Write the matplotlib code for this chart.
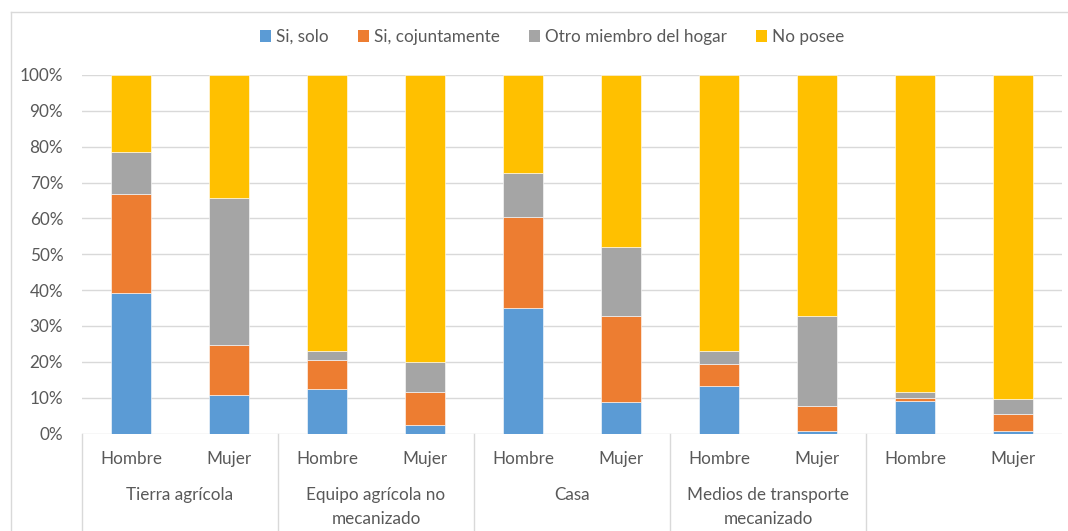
import matplotlib
matplotlib.use("Agg")
import matplotlib.pyplot as plt
import matplotlib.transforms as mtransforms
from matplotlib.lines import Line2D
from matplotlib.patches import Patch
import numpy as np

plt.rcParams['font.family'] = ['Lato', 'DejaVu Sans']

# ---- data ----
groups = ["Tierra agrícola", "Equipo agrícola no\nmecanizado", "Casa",
          "Medios de transporte\nmecanizado", ""]
sexes = ["Hombre", "Mujer"]
series_names = ["Si, solo", "Si, cojuntamente", "Otro miembro del hogar", "No posee"]
si_solo = [39.1, 10.7, 12.3, 2.3, 34.9, 8.7, 13.3, 0.8, 9.1, 0.8]
si_conj = [27.6, 14.1, 8.1, 9.3, 25.6, 24.1, 6.1, 6.9, 0.9, 4.5]
otro = [11.7, 41.0, 2.7, 8.4, 12.2, 19.1, 3.7, 25.1, 1.6, 4.3]
no_posee = [21.6, 34.2, 76.9, 80.0, 27.3, 48.1, 76.9, 67.2, 88.4, 90.4]
yticks = [0, 10, 20, 30, 40, 50, 60, 70, 80, 90, 100]

colors = ["#5B9BD5", "#ED7D31", "#A5A5A5", "#FFC000"]
text_color = "#595959"
grid_color = "#D9D9D9"
FS = 12.3

W, H = 1068, 531
fig = plt.figure(figsize=(W / 100, H / 100), dpi=100)
ax = fig.add_axes([82 / W, 1 - 433.5 / H, (1062 - 82) / W, (433.5 - 75) / H])

x = np.arange(len(si_solo))
bottom = np.zeros(len(x))
for vals, col, name in zip([si_solo, si_conj, otro, no_posee], colors, series_names):
    ax.bar(x, vals, width=0.4, bottom=bottom, color=col, edgecolor="white",
           linewidth=0.4, label=name, zorder=3)
    bottom += np.array(vals)

ax.set_xlim(-0.5, len(x) - 0.5)
ax.set_ylim(0, 100)
ax.set_yticks(yticks)
ax.set_yticklabels([f"{t}%" for t in yticks], fontsize=FS, color=text_color)
ax.tick_params(axis="y", length=0, pad=13.5)
ax.set_xticks([])
ax.grid(axis="y", color=grid_color, linewidth=1.0, zorder=0)
for s in ax.spines.values():
    s.set_visible(False)

# x labels (two levels)
tr = mtransforms.blended_transform_factory(ax.transData, fig.transFigure)
for i in x:
    ax.text(i, 1 - 459 / H, sexes[i % 2], transform=tr, ha="center", va="center",
            fontsize=FS, color=text_color, clip_on=False)
for g, name in enumerate(groups):
    lines = name.split("\n")
    for k, ln in enumerate(lines):
        ax.text(2 * g + 0.5, 1 - (495 + 24 * k) / H, ln, transform=tr, ha="center",
                va="center", fontsize=FS, color=text_color, clip_on=False)
for g in range(len(groups)):
    xb = 2 * g - 0.5
    ax.add_line(Line2D([xb, xb], [1 - 433.5 / H, 0], transform=tr, color=grid_color,
                       linewidth=1.0, clip_on=False))

# chart area border (left and top)
fig.add_artist(Line2D([11 / W, 11 / W], [0, 1 - 12 / H], transform=fig.transFigure,
                      color=grid_color, linewidth=1.0))
fig.add_artist(Line2D([11 / W, 1], [1 - 12 / H, 1 - 12 / H], transform=fig.transFigure,
                      color=grid_color, linewidth=1.0))

handles = [Patch(facecolor=c, edgecolor="none") for c in colors]
leg = fig.legend(handles, series_names, loc="center", ncol=4,
                 bbox_to_anchor=(552 / W, 1 - 37 / H), frameon=False,
                 fontsize=FS, handlelength=0.65, handleheight=0.65,
                 handletextpad=0.3, columnspacing=1.7)
for t in leg.get_texts():
    t.set_color(text_color)

fig.savefig("out.png", dpi=100)
